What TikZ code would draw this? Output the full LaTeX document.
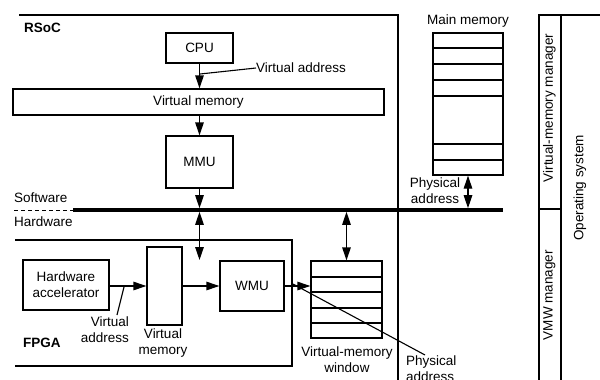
\documentclass[tikz,border=0pt]{standalone}
\usepackage{fontspec}
\setmainfont{Liberation Sans}
\usetikzlibrary{arrows.meta}

\tikzset{
  box/.style={draw, line width=1.3pt, inner sep=0pt, align=center},
  frameline/.style={line width=1.3pt},
  tip/.tip={Triangle[length=13pt,width=8.5pt]},
  arr/.style={line width=1.3pt, -tip},
  darr/.style={line width=1.3pt, tip-tip},
  lbl/.style={inner sep=0pt, align=center},
  leader/.style={line width=1.1pt},
  busline/.style={line width=3.5pt},
  rowline/.style={line width=1.3pt},
  heading/.style={inner sep=0pt, font=\fontsize{13.5}{16}\selectfont\bfseries},
}

\begin{document}
\begin{tikzpicture}[x=1pt, y=-1pt, font=\fontsize{13.5}{16}\selectfont]
\useasboundingbox (0,0) rectangle (600,380);
\clip (0,0) rectangle (600,380);

% ---- RSoC frame ----
\draw[frameline] (19,15) -- (398,15) -- (398,390);
\node[heading, anchor=west] (rsoc) at (24,28) {RSoC};

% ---- software side ----
\node[box, minimum width=67pt, minimum height=30pt] (cpu) at (199.5,48) {CPU};
\node[box, minimum width=371pt, minimum height=26pt] (vmbar) at (198.5,102) {Virtual memory};
\node[box, minimum width=67pt, minimum height=52pt] (mmu) at (199.5,162) {MMU};

\draw[arr] (cpu.south) -- (cpu.south |- vmbar.north);
\draw[arr] (vmbar.south -| mmu.north) -- (mmu.north);

\coordinate (vatap) at (200,74);
\node[lbl, anchor=west] (va1) at (256,68) {Virtual address};
\draw[leader] (vatap) -- (va1.west);

% ---- main memory ----
\node[lbl] (mmlabel) at (468,21) {Main memory};
\node[box, minimum width=70pt, minimum height=142pt] (mm) at (468,104) {};
\foreach \yy in {48,64,80,96,144,160}
  \draw[rowline] (433,\yy) -- (503,\yy);

% ---- software / hardware boundary ----
\coordinate (busL) at (73,210);
\coordinate (busR) at (503,210);
\draw[line width=1pt, dash pattern=on 4pt off 3pt] (14,210) -- (busL);
\draw[busline] (busL) -- (busR);
\node[lbl, anchor=west] (sw) at (14,198) {Software};
\node[lbl, anchor=west] (hw) at (14,222) {Hardware};

\draw[arr] (mmu.south) -- ([yshift=1.8pt]mmu.south |- busL);
\coordinate (fpgatap) at (199.5,260);
\draw[darr] ([yshift=-1.8pt]mmu.south |- busL) -- (fpgatap);

\draw[darr] (mm.south) -- ([yshift=1.8pt]mm.south |- busL);
\node[lbl] (pa1) at (435,191) {Physical\\address};

% ---- FPGA frame ----
\draw[frameline] (15,240) -- (292,240) -- (292,366) -- (15,366);
\node[heading, anchor=west] (fpga) at (23,343) {FPGA};

\node[box, minimum width=86pt, minimum height=50pt] (hwacc) at (66,285) {Hardware\\accelerator};
\node[box, minimum width=35pt, minimum height=78pt] (vmcol) at (164.5,286) {};
\node[box, minimum width=64pt, minimum height=50pt] (wmu) at (252,286) {WMU};

\draw[arr] (hwacc.east |- vmcol.west) -- (vmcol.west);
\draw[arr] (vmcol.east) -- (wmu.west);

\coordinate (va2tap) at (124,287);
\node[lbl, align=right, anchor=north east] (va2) at (129,317) {Virtual\\address};
\draw[leader] (va2tap) -- (117,315);
\node[lbl] (vmlabel) at (163,343) {Virtual\\memory};

% ---- virtual-memory window ----
\node[box, minimum width=71pt, minimum height=77pt] (win) at (346.5,299.5) {};
\foreach \yy in {277,292,308,323}
  \draw[rowline] (311,\yy) -- (382,\yy);
\node[lbl] (winlabel) at (347,360) {Virtual-memory\\window};

\draw[arr] (wmu.east) -- (wmu.east -| win.west);
\draw[darr] ([yshift=-1.8pt]win.north |- busL) -- (win.north);

\coordinate (patap) at (293,284);
\node[lbl, align=left, anchor=north west] (pa2) at (406,356) {Physical\\address};
\draw[leader] (patap) -- (425,355);

% ---- operating system ----
\draw[frameline] (605,15) -- (539,15) -- (539,390);
\draw[frameline] (561,15) -- (561,390);
\draw[frameline] (539,209) -- (561,209);
\node[lbl, rotate=90] (vmm) at (549.5,108) {Virtual-memory manager};
\node[lbl, rotate=90] (vmwm) at (549.5,295) {VMW manager};
\node[lbl, rotate=90] (os) at (580,188) {Operating system};
\end{tikzpicture}
\end{document}
